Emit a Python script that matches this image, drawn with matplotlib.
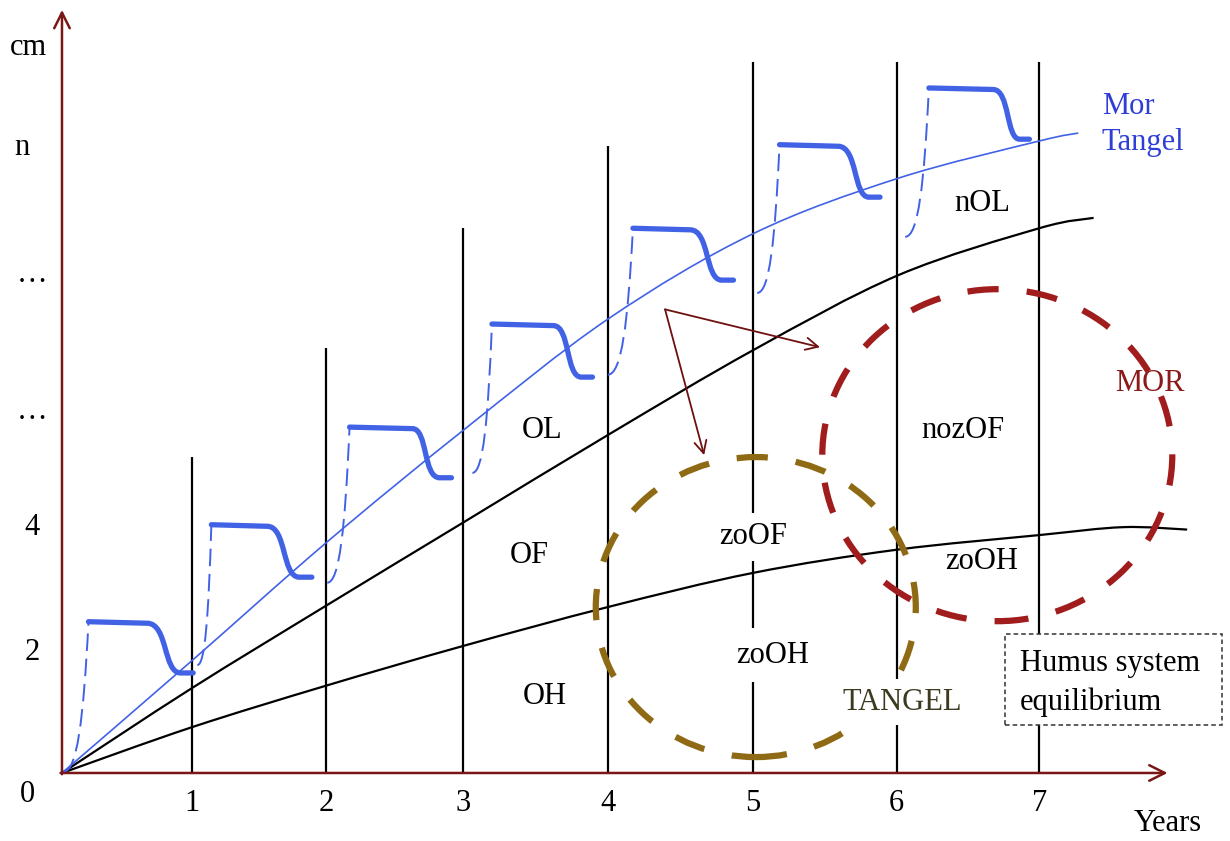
import numpy as np
import matplotlib.pyplot as plt
from matplotlib.path import Path
from matplotlib.patches import PathPatch, Ellipse, Rectangle

plt.rcParams['font.family'] = ['Liberation Serif', 'DejaVu Serif']

# --- data (years on x, cm on y) ---
year_labels = ["1", "2", "3", "4", "5", "6", "7"]
year_x = [0.93, 1.89, 2.87, 3.91, 4.95, 5.98, 7.00]
year_line_top = [5.18, 6.97, 8.93, 10.28, 11.66, 11.66, 11.66]

y_labels = ["2", "4", "…", "…", "n", "cm"]
y_label_x = [-0.215, -0.215, -0.215, -0.215, -0.29, -0.237]
y_label_pos = [1.98, 4.03, 5.93, 8.18, 10.25, 11.90]

# litter surface (Mor / Tangel), thin blue
mor_x = [0.0, 0.93, 1.89, 2.87, 3.91, 4.95, 5.99, 7.00, 7.28]
mor_y = [0.0, 1.84, 3.77, 5.61, 7.44, 8.84, 9.75, 10.36, 10.49]

# OL / OF boundary
olof_x = [0.0, 0.93, 1.89, 2.87, 3.91, 4.95, 5.99, 7.00, 7.39]
olof_y = [0.0, 1.39, 2.74, 4.10, 5.54, 6.93, 8.16, 8.93, 9.10]

# OF / OH boundary
ofoh_x = [0.0, 0.93, 1.89, 2.87, 3.91, 4.95, 5.98, 7.00, 7.60, 8.06]
ofoh_y = [0.0, 0.75, 1.43, 2.08, 2.72, 3.28, 3.66, 3.90, 4.03, 3.99]

# yearly litter fall: dashed rise start, top of thick line, drop, bottom, end
fall_x0 = [0.01, 0.97, 1.90, 2.94, 3.91, 4.98, 6.04]
fall_y0 = [0.02, 1.77, 3.12, 4.92, 6.53, 7.87, 8.79]
fall_top_x = [0.19, 1.07, 2.06, 3.08, 4.09, 5.14, 6.21]
fall_top_y = [2.48, 4.07, 5.67, 7.36, 8.93, 10.30, 11.23]
fall_flat_x = [0.61, 1.47, 2.51, 3.52, 4.50, 5.56, 6.67]
fall_drop_x = [0.76, 1.61, 2.62, 3.64, 4.64, 5.70, 6.79]
fall_bot_y = [1.64, 3.21, 4.84, 6.49, 8.08, 9.44, 10.39]
fall_end_x = [0.94, 1.79, 2.79, 3.80, 4.81, 5.86, 6.93]

AXIS_RED = "#7a1616"
BLUE = "#4262e6"
FS = 22


def smooth(xs, ys):
    pts = np.column_stack([xs, ys]).astype(float)
    verts = [pts[0]]
    codes = [Path.MOVETO]
    n = len(pts)
    for i in range(n - 1):
        p0 = pts[i - 1] if i > 0 else pts[i]
        p1, p2 = pts[i], pts[i + 1]
        p3 = pts[i + 2] if i + 2 < n else pts[i + 1]
        verts += [p1 + (p2 - p0) / 6, p2 - (p3 - p1) / 6, p2]
        codes += [Path.CURVE4] * 3
    return Path(verts, codes)


fig = plt.figure(figsize=(12.3, 8.41), dpi=100)
ax = fig.add_axes([0, 0, 1, 1])
ax.set_xlim(-0.444, 8.367)
ax.set_ylim(-1.115, 12.672)
ax.axis("off")

# year lines
ax.vlines(year_x, 0, year_line_top, color="black", lw=1.6, zorder=2)

# horizon boundaries
ax.add_patch(PathPatch(smooth(olof_x, olof_y), fill=False, color="black", lw=1.6, zorder=4))
ax.add_patch(PathPatch(smooth(ofoh_x, ofoh_y), fill=False, color="black", lw=1.6, zorder=4))
ax.add_patch(PathPatch(smooth(mor_x, mor_y), fill=False, color=BLUE, lw=1.2, zorder=4))

# yearly litter fall and decay
for x0, y0, tx, ty, fx, dx, by, ex in zip(fall_x0, fall_y0, fall_top_x, fall_top_y,
                                           fall_flat_x, fall_drop_x, fall_bot_y, fall_end_x):
    rise = Path([(x0, y0), (x0 + 0.55 * (tx - x0), y0),
                 (x0 + 0.8 * (tx - x0), y0 + 0.35 * (ty - y0)), (tx, ty)],
                [Path.MOVETO, Path.CURVE4, Path.CURVE4, Path.CURVE4])
    ax.add_patch(PathPatch(rise, fill=False, color=BLUE, lw=1.4,
                           linestyle=(0, (9, 4)), zorder=4))
    fy = ty - 0.03 * (ty - by)
    decay = Path([(tx, ty), (fx, fy), (dx, fy), (dx - 0.2 * (ex - dx), by),
                  (dx + 0.5 * (ex - dx), by), (ex, by)],
                 [Path.MOVETO, Path.LINETO, Path.CURVE4, Path.CURVE4, Path.CURVE4, Path.LINETO])
    ax.add_patch(PathPatch(decay, fill=False, color=BLUE, lw=3.8,
                           capstyle="round", joinstyle="round", zorder=4))

# humus forms
ax.add_patch(Ellipse((4.97, 2.72), 2 * 160 / 139.6, 2 * 150 / 61, fill=False,
                     edgecolor="#8e6a14", lw=4.5, linestyle=(0, (5, 4.5)), zorder=5))
ax.add_patch(Ellipse((6.70, 5.21), 2 * 175 / 139.6, 2 * 166 / 61, fill=False,
                     edgecolor="#a11d1d", lw=4.5, linestyle=(0, (5, 4.5)), zorder=5))

# arrows
for tip in [(5.43, 6.98), (4.60, 5.21)]:
    ax.annotate("", xy=tip, xytext=(4.32, 7.60),
                arrowprops=dict(arrowstyle="->", color="#6e1010", lw=1.3,
                                mutation_scale=22, shrinkA=0, shrinkB=0), zorder=4)

# axes
ax.annotate("", xy=(0, 12.51), xytext=(0, -0.02),
            arrowprops=dict(arrowstyle="->", color=AXIS_RED, lw=1.8,
                            mutation_scale=28, shrinkA=0, shrinkB=0), zorder=6)
ax.annotate("", xy=(7.92, 0), xytext=(-0.01, 0),
            arrowprops=dict(arrowstyle="->", color=AXIS_RED, lw=1.8,
                            mutation_scale=28, shrinkA=0, shrinkB=0), zorder=6)

# tick labels
for x, lab in zip(year_x, year_labels):
    ax.text(x, -0.5, lab, ha="center", va="center", fontsize=FS)
for x, y, lab in zip(y_label_x, y_label_pos, y_labels):
    ax.text(x, y, lab, ha="center", va="center", fontsize=FS)
ax.text(-0.245, -0.36, "0", ha="center", va="center", fontsize=FS)
ax.text(7.92, -0.82, "Years", ha="center", va="center", fontsize=FS)

# horizon labels
for x, y, lab in [(3.44, 5.62, "OL"), (3.35, 3.57, "OF"), (3.46, 1.25, "OH"),
                  (6.59, 9.34, "nOL"), (6.45, 5.62, "nozOF"), (6.59, 3.46, "zoOH")]:
    ax.text(x, y, lab, ha="center", va="center", fontsize=FS, zorder=4)
ax.text(4.95, 3.87, "zoOF", ha="center", va="center", fontsize=FS, zorder=3,
        bbox=dict(facecolor="white", edgecolor="none", pad=7))
ax.text(5.09, 1.93, "zoOH", ha="center", va="center", fontsize=FS, zorder=3,
        bbox=dict(facecolor="white", edgecolor="none", pad=9))
ax.text(6.02, 1.16, "TANGEL", ha="center", va="center", fontsize=FS, color="#3d3a1f",
        zorder=6, bbox=dict(facecolor="white", edgecolor="none", pad=6))
ax.text(7.79, 6.39, "MOR", ha="center", va="center", fontsize=FS, color="#8b1a1a", zorder=6)
ax.text(7.45, 10.92, "Mor", ha="left", va="center", fontsize=FS, color="#2f3fd6")
ax.text(7.45, 10.34, "Tangel", ha="left", va="center", fontsize=FS, color="#2f3fd6")

# equilibrium box
ax.add_patch(Rectangle((6.755, 0.787), 1.555, 1.492, facecolor="white", edgecolor="#333333",
                       lw=1.1, linestyle=(0, (3, 2)), zorder=6))
ax.text(6.86, 1.80, "Humus system", ha="left", va="center", fontsize=FS, zorder=7)
ax.text(6.86, 1.16, "equilibrium", ha="left", va="center", fontsize=FS, zorder=7)

fig.savefig("out.png", dpi=100)
